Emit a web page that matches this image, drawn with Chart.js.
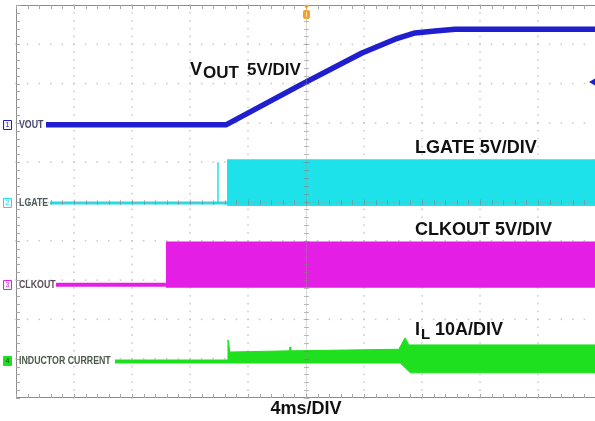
<!DOCTYPE html>
<html>
<head>
<meta charset="utf-8">
<script src="https://cdn.jsdelivr.net/npm/chart.js@4.4.1/dist/chart.umd.min.js"></script>
<style>
  html, body { margin: 0; padding: 0; background: #fff; }
  #wrap { width: 595px; height: 421px; }
</style>
</head>
<body>
<div id="wrap"><canvas id="scope" width="595" height="421"></canvas></div>
<script>
// Horizontal axis: time in ms (4 ms/div, trigger at 0). Vertical axis: screen divisions (0 = bottom).
const MS_PER_DIV = 4;
const X_MIN = -20;
const X_MAX = 19.93;
const Y_DIVS = 10;

// Channel 1: output voltage soft-start ramp
const voutT = [-17.93, -5.52, -0.41, 3.86, 6.14, 7.52, 8.90, 10.28, 19.93];
const voutV = [6.95, 6.95, 7.96, 8.78, 9.13, 9.29, 9.34, 9.38, 9.38];

// Channel 2: LGATE idle level, first pulse, switching envelope
const lgateIdleT = [-17.66, 19.93];
const lgateIdleV = [4.96, 4.96];
const lgatePulseT = [-6.07, -6.07];
const lgatePulseV = [4.96, 6.00];
const lgateBandT = [-5.45, 19.93, 19.93, -5.45];
const lgateBandV = [6.06, 6.06, 4.90, 4.90];

// Channel 3: CLKOUT idle level and switching envelope
const clkIdleT = [-17.24, -9.66];
const clkIdleV = [2.88, 2.88];
const clkBandT = [-9.66, 19.93, 19.93, -9.66];
const clkBandV = [3.97, 3.97, 2.82, 2.82];

// Channel 4: inductor current idle level and ripple envelope
const ilIdleT = [-13.17, -5.38];
const ilIdleV = [0.93, 0.93];
const ilBandT = [-5.38, -5.38, -5.25, -1.15, -1.10, -1.05, 6.40, 6.83, 7.10, 19.93, 19.93, 7.20, 6.50, -5.38];
const ilBandV = [0.89, 1.48, 1.17, 1.20, 1.30, 1.20, 1.24, 1.53, 1.35, 1.35, 0.64, 0.64, 0.89, 0.89];

// Channel tags on the left edge
const chanNums = ['1', '2', '3', '4'];
const chanNames = ['VOUT', 'LGATE', 'CLKOUT', 'INDUCTOR CURRENT'];
const chanLevels = [6.95, 4.96, 2.88, 0.93];

// Scale annotations: [t (ms), level (div)]
const vScaleLabelPos = [-8.0, 8.21];
const lgateLabelPos = [7.52, 6.23];
const clkLabelPos = [7.52, 4.14];
const ilLabelPos = [7.52, 1.60];
const timeBaseText = '4ms/DIV';

// Trigger level marker (div)
const trigLevel = 8.04;

const COLORS = {
  vout: '#1f1fcf',
  lgate: '#1ee2ea',
  clk: '#e41ee4',
  il: '#1ee01e'
};

const pts = (t, v) => t.map((x, i) => ({ x, y: v[i] }));

function lineSet(t, v, color, width) {
  return { data: pts(t, v), borderColor: color, borderWidth: width, fill: false,
           pointRadius: 0, tension: 0, borderCapStyle: 'butt', borderJoinStyle: 'round' };
}
function bandSet(t, v, color) {
  return { data: pts(t, v), borderColor: color, backgroundColor: color, borderWidth: 1,
           fill: 'shape', pointRadius: 0, tension: 0 };
}

const BOLD = '"Liberation Sans", Arial, sans-serif';

function drawGrid(chart) {
  const { ctx, chartArea: a, scales: { x, y } } = chart;
  const xDivs = Math.round((X_MAX - X_MIN) / MS_PER_DIV);
  ctx.save();
  // dotted graticule
  ctx.fillStyle = '#c8c8c8';
  for (let i = 1; i <= xDivs; i++) {
    if (i === 5) continue;
    const px = x.getPixelForValue(X_MIN + i * MS_PER_DIV);
    for (let k = 0; k <= Y_DIVS * 5; k++) {
      ctx.fillRect(px - 0.75, y.getPixelForValue(k / 5) - 0.75, 1.5, 1.5);
    }
  }
  for (let j = 1; j < Y_DIVS; j++) {
    if (j === 5) continue;
    const py = y.getPixelForValue(j);
    for (let k = 0; k <= xDivs * 5; k++) {
      ctx.fillRect(x.getPixelForValue(X_MIN + k * MS_PER_DIV / 5) - 0.75, py - 0.75, 1.5, 1.5);
    }
  }
  // frame
  ctx.strokeStyle = '#8c8c8c';
  ctx.lineWidth = 1;
  ctx.beginPath();
  ctx.moveTo(Math.round(a.left) + 0.5, a.top);
  ctx.lineTo(Math.round(a.left) + 0.5, a.bottom);
  ctx.moveTo(a.left, Math.round(a.top) + 0.5);
  ctx.lineTo(a.right, Math.round(a.top) + 0.5);
  ctx.moveTo(a.left, Math.round(a.bottom) - 0.5);
  ctx.lineTo(a.right, Math.round(a.bottom) - 0.5);
  ctx.stroke();
  // frame minor ticks
  ctx.strokeStyle = '#a8a8a8';
  ctx.beginPath();
  for (let k = 0; k <= Y_DIVS * 5; k++) {
    const py = Math.round(y.getPixelForValue(k / 5)) + 0.5;
    ctx.moveTo(a.left, py); ctx.lineTo(a.left + 4, py);
  }
  for (let k = 0; k <= xDivs * 5; k++) {
    const px = Math.round(x.getPixelForValue(X_MIN + k * MS_PER_DIV / 5)) + 0.5;
    ctx.moveTo(px, a.bottom); ctx.lineTo(px, a.bottom - 4);
    ctx.moveTo(px, a.top); ctx.lineTo(px, a.top + 4);
  }
  ctx.stroke();
  ctx.restore();
}

function drawCentreAxes(chart) {
  const { ctx, chartArea: a, scales: { x, y } } = chart;
  const xDivs = Math.round((X_MAX - X_MIN) / MS_PER_DIV);
  const cx = Math.round(x.getPixelForValue(0)) + 0.5;
  const cy = Math.round(y.getPixelForValue(Y_DIVS / 2)) + 0.5;
  ctx.save();
  ctx.strokeStyle = 'rgba(120,120,120,0.5)';
  ctx.lineWidth = 1;
  ctx.beginPath();
  for (let k = 0; k <= Y_DIVS * 5; k++) {
    const py = Math.round(y.getPixelForValue(k / 5)) + 0.5;
    const half = k % 5 === 0 ? 3 : 2.5;
    ctx.moveTo(cx - half, py); ctx.lineTo(cx + half, py);
  }
  for (let k = 0; k <= xDivs * 5; k++) {
    const px = Math.round(x.getPixelForValue(X_MIN + k * MS_PER_DIV / 5)) + 0.5;
    const half = k % 5 === 0 ? 3 : 2.5;
    ctx.moveTo(px, cy - half); ctx.lineTo(px, cy + half);
  }
  ctx.stroke();
  ctx.fillStyle = 'rgba(150,150,150,0.55)';
  for (let k = 0; k <= Y_DIVS * 25; k++) {
    ctx.fillRect(cx - 0.5, y.getPixelForValue(k / 25) - 0.5, 1, 1);
  }
  for (let k = 0; k <= xDivs * 25; k++) {
    ctx.fillRect(x.getPixelForValue(X_MIN + k * MS_PER_DIV / 25) - 0.5, cy - 0.5, 1, 1);
  }
  // trigger position marker
  ctx.fillStyle = '#f2a228';
  ctx.beginPath();
  ctx.moveTo(cx - 3, a.top); ctx.lineTo(cx + 3, a.top); ctx.lineTo(cx, a.top + 4); ctx.closePath();
  ctx.fill();
  ctx.beginPath();
  ctx.roundRect(cx - 3.5, a.top + 5, 7, 9, 2);
  ctx.fill();
  ctx.fillStyle = '#fbe0b0';
  ctx.fillRect(cx - 0.5, a.top + 7, 1, 5);
  // trigger level marker
  const ty = y.getPixelForValue(trigLevel);
  ctx.fillStyle = COLORS.vout;
  ctx.beginPath();
  ctx.moveTo(a.right - 6, ty); ctx.lineTo(a.right, ty - 3.5); ctx.lineTo(a.right, ty + 3.5); ctx.closePath();
  ctx.fill();
  ctx.restore();
}

function drawChannelTags(chart) {
  const { ctx, chartArea: a, scales: { y } } = chart;
  const tagColors = [COLORS.vout, COLORS.lgate, COLORS.clk, COLORS.il];
  const textColors = ['#45456e', '#4e5a5e', '#5a4c5a', '#4c5a4c'];
  ctx.save();
  chanNums.forEach((n, i) => {
    const py = Math.round(y.getPixelForValue(chanLevels[i]));
    const bx = a.left - 13;
    ctx.fillStyle = i === 3 ? COLORS.il : '#f4f4ff';
    ctx.strokeStyle = tagColors[i];
    ctx.lineWidth = 1;
    ctx.beginPath();
    ctx.rect(bx + 0.5, py - 4.5, 8, 9);
    ctx.fill();
    ctx.stroke();
    ctx.fillStyle = i === 3 ? '#1a4a1a' : tagColors[i];
    ctx.font = '7px ' + BOLD;
    ctx.textAlign = 'center';
    ctx.textBaseline = 'middle';
    ctx.fillText(n, bx + 4.5, py + 0.5);
    // condensed channel name
    ctx.save();
    ctx.translate(a.left + 3, py + 0.5);
    ctx.scale(0.88, 1);
    ctx.fillStyle = textColors[i];
    ctx.font = 'bold 10px ' + BOLD;
    ctx.textAlign = 'left';
    ctx.fillText(chanNames[i], 0, 0);
    ctx.restore();
  });
  ctx.restore();
}

function drawScaleLabels(chart) {
  const { ctx, chartArea: a, scales: { x, y } } = chart;
  ctx.save();
  ctx.fillStyle = '#111';
  ctx.textBaseline = 'alphabetic';
  ctx.textAlign = 'left';

  // V with OUT subscript
  let px = x.getPixelForValue(vScaleLabelPos[0]);
  let py = y.getPixelForValue(vScaleLabelPos[1]);
  ctx.font = 'bold 18px ' + BOLD;
  ctx.fillText('V', px, py);
  ctx.font = 'bold 17px ' + BOLD;
  ctx.fillText('OUT', px + 13, py + 3);
  ctx.fillText('5V/DIV', px + 57, py);

  ctx.font = 'bold 18px ' + BOLD;
  ctx.fillText('LGATE 5V/DIV', x.getPixelForValue(lgateLabelPos[0]), y.getPixelForValue(lgateLabelPos[1]));
  ctx.fillText('CLKOUT 5V/DIV', x.getPixelForValue(clkLabelPos[0]), y.getPixelForValue(clkLabelPos[1]));

  // I with L subscript
  px = x.getPixelForValue(ilLabelPos[0]);
  py = y.getPixelForValue(ilLabelPos[1]);
  ctx.fillText('I', px, py);
  ctx.font = 'bold 15px ' + BOLD;
  ctx.fillText('L', px + 6, py + 4);
  ctx.font = 'bold 18px ' + BOLD;
  ctx.fillText('10A/DIV', px + 20, py);

  // time base
  ctx.textAlign = 'center';
  ctx.fillText(timeBaseText, x.getPixelForValue(0), a.bottom + 16);
  ctx.restore();
}

const scopePlugin = {
  id: 'scopeScreen',
  beforeDatasetsDraw(chart) { drawGrid(chart); },
  afterDatasetsDraw(chart) { drawCentreAxes(chart); drawChannelTags(chart); drawScaleLabels(chart); }
};

new Chart(document.getElementById('scope'), {
  type: 'line',
  data: {
    datasets: [
      lineSet(voutT, voutV, COLORS.vout, 5.5),
      bandSet(lgateBandT, lgateBandV, COLORS.lgate),
      lineSet(lgatePulseT, lgatePulseV, COLORS.lgate, 1.5),
      lineSet(lgateIdleT, lgateIdleV, COLORS.lgate, 3),
      bandSet(clkBandT, clkBandV, COLORS.clk),
      lineSet(clkIdleT, clkIdleV, COLORS.clk, 4),
      bandSet(ilBandT, ilBandV, COLORS.il),
      lineSet(ilIdleT, ilIdleV, COLORS.il, 4)
    ]
  },
  options: {
    responsive: false,
    animation: false,
    devicePixelRatio: 1,
    layout: { padding: { left: 16, right: 0, top: 5, bottom: 23 } },
    scales: {
      x: { type: 'linear', min: X_MIN, max: X_MAX, display: false },
      y: { type: 'linear', min: 0, max: Y_DIVS, display: false }
    },
    plugins: { legend: { display: false }, tooltip: { enabled: false } },
    elements: { point: { radius: 0 } }
  },
  plugins: [scopePlugin]
});
</script>
</body>
</html>
